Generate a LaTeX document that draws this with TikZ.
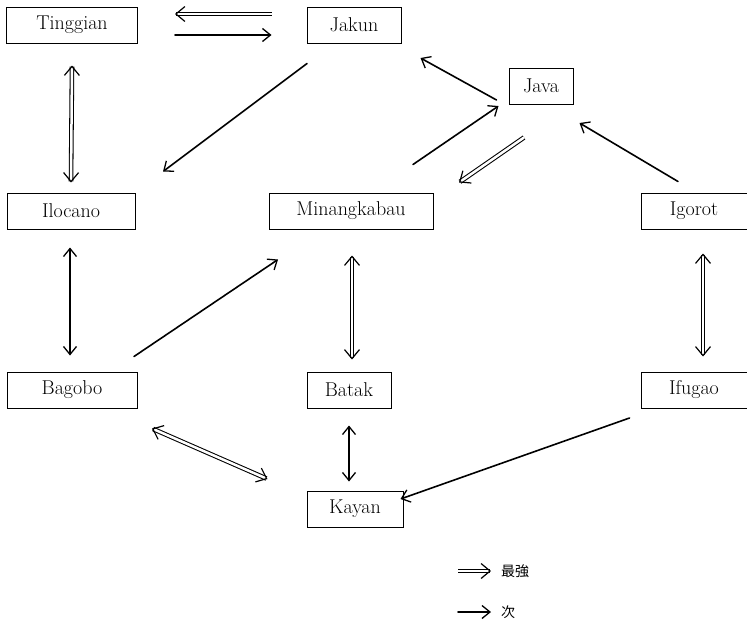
\documentclass[tikz,border=0pt]{standalone}
\usepackage{fontspec}
\newfontfamily\cjk{Noto Sans CJK JP}
\usetikzlibrary{arrows.meta}
\tikzset{
  soltip/.tip={Straight Barb[length=8pt,width=13pt,line width=1.3pt]},
  holtip/.tip={Straight Barb[length=9pt,width=15pt,line width=1.2pt,color=black]},
}
\begin{document}
\begin{tikzpicture}[x=1pt,y=-1pt,
  box/.style={draw, line width=1pt, inner sep=0pt, minimum height=36pt,
    font=\fontsize{20}{24}\selectfont},
  sol/.style={line width=1.6pt, line cap=round, -soltip},
  solboth/.style={line width=1.6pt, line cap=round, soltip-soltip},
  hol/.style={preaction={draw=black, -, line width=1.05pt, double=white,
      double distance=2.5pt, shorten >=1.2pt}, draw=white, line width=0.4pt, -holtip},
  holboth/.style={preaction={draw=black, -, line width=1.05pt, double=white,
      double distance=2.5pt, shorten >=1.2pt, shorten <=1.2pt}, draw=white, line width=0.4pt, holtip-holtip}]
\useasboundingbox (0,0) rectangle (747,624);

\node[box, minimum width=131pt] (T)  at (72,25)  {Tinggian};
\node[box, minimum width=94pt]  (Jk) at (354,25) {Jakun};
\node[box, minimum width=64pt]  (Jv) at (541,86) {Java};
\node[box, minimum width=128pt] (Il) at (71,211) {Ilocano};
\node[box, minimum width=164pt] (Mi) at (351,211) {Minangkabau};
\node[box, minimum width=106pt] (Ig) at (694,211) {Igorot};
\node[box, minimum width=130pt] (Ba) at (72,390) {Bagobo};
\node[box, minimum width=84pt]  (Bt) at (349,390) {Batak};
\node[box, minimum width=106pt] (If) at (694,390) {Ifugao};
\node[box, minimum width=96pt]  (K)  at (355,509) {Kayan};

% Tinggian <-> Jakun
\draw[hol] ([shift={(-35,-11)}]Jk.west) -- ([shift={(37,-11)}]T.east);
\draw[sol] ([shift={(37,10)}]T.east) -- ([shift={(-35,10)}]Jk.west);
% Tinggian <=> Ilocano
\draw[holboth] ([shift={(0,22)}]T.south) -- ([shift={(0,-10)}]Il.north);
% Jakun -> Ilocano
\draw[sol] ([shift={(-47,20)}]Jk.south) -- ([shift={(92,-21)}]Il.north);
% Java -> Jakun
\draw[sol] ([shift={(-12,14)}]Jv.west) -- ([shift={(19,33)}]Jk.east);
% Minangkabau -> Java
\draw[sol] ([shift={(62,-28)}]Mi.north) -- ([shift={(-10,20)}]Jv.west);
% Java => Minangkabau
\draw[hol] ([shift={(-17,33)}]Jv.south) -- ([shift={(108,-10)}]Mi.north);
% Igorot -> Java
\draw[sol] ([shift={(-16,-11)}]Ig.north) -- ([shift={(6,37)}]Jv.east);
% Ilocano <-> Bagobo
\draw[solboth] ([shift={(-1,18)}]Il.south) -- ([shift={(-2,-16)}]Ba.north);
% Bagobo -> Minangkabau
\draw[sol] ([shift={(62,-15)}]Ba.north) -- ([shift={(-73,30)}]Mi.south);
% Minangkabau <=> Batak
\draw[holboth] ([shift={(1,26)}]Mi.south) -- ([shift={(3,-12)}]Bt.north);
% Igorot <=> Ifugao
\draw[holboth] ([shift={(9,24)}]Ig.south) -- ([shift={(9,-15)}]If.north);
% Batak <-> Kayan
\draw[solboth] ([shift={(0,17)}]Bt.south) -- ([shift={(-6,-9)}]K.north);
% Bagobo <=> Kayan
\draw[holboth] ([shift={(80,20)}]Ba.south) -- ([shift={(-39,-30)}]K.west);
% Ifugao -> Kayan
\draw[sol] ([shift={(-11,28)}]If.west) -- ([shift={(-3,-10)}]K.east);

% legend
\coordinate (l1a) at (458,571);
\coordinate (l1b) at (491,571);
\coordinate (l2a) at (458,612);
\coordinate (l2b) at (491,612);
\draw[hol] (l1a) -- (l1b);
\draw[sol] (l2a) -- (l2b);
\node[anchor=west, inner sep=0pt, font=\cjk\fontsize{14}{16}\selectfont] (L1) at (501,571) {最強};
\node[anchor=west, inner sep=0pt, font=\cjk\fontsize{14}{16}\selectfont] (L2) at (501,612) {次};
\end{tikzpicture}
\end{document}
